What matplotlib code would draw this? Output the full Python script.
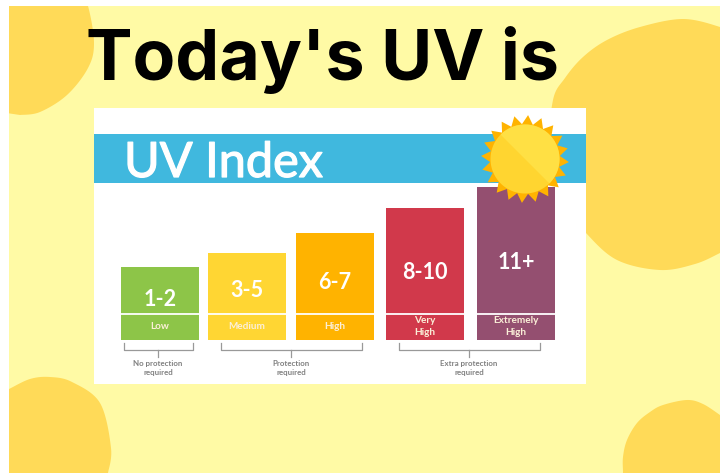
import numpy as np
import matplotlib
matplotlib.use('Agg')
import matplotlib.pyplot as plt
import matplotlib.patheffects as pe
from matplotlib.patches import Rectangle

# values: bar height in pixels above the base line
uv_ranges = ['1-2', '3-5', '6-7', '8-10', '11+']
uv_levels = ['Low', 'Medium', 'High', 'Very\nHigh', 'Extremely\nHigh']
bar_heights = [73, 87, 107, 132, 153]
bar_colors = ['#8DC548', '#FFD633', '#FFB300', '#D1394B', '#944F70']
bar_lefts = [121, 208, 296, 386, 477]
range_label_y = [299, 290.5, 282.5, 272.5, 262]

notes = ['No protection\nrequired', 'Protection\nrequired', 'Extra protection\nrequired']
note_spans = [(124, 193, 158), (221, 362, 291), (399, 540, 469)]

BACKGROUND = '#FFFAA5'
BLOB = '#FFDA58'
BLUE = '#40B8DE'
BAR_BASE = 340
BAR_WIDTH = 78
BAND_HEIGHT = 26

blob_top_left = [(80, -6), (88, 6), (94, 43), (88, 68), (67, 95), (40, 112), (20, 115), (0, 112), (0, -6)]
blob_right = [(735, 35), (720, 27), (683, 19), (640, 27), (607, 40), (583, 57), (565, 78), (553, 100), (550, 150),
              (565, 205), (586, 233), (617, 260), (660, 270), (695, 264), (720, 253), (735, 245)]
blob_bottom_left = [(0, 393), (9, 389), (30, 379), (50, 377), (72, 382), (100, 403), (111, 448), (108, 473),
                    (104, 490), (0, 490)]
blob_bottom_right = [(623, 490), (623, 473), (623, 457), (627, 440), (637, 423), (650, 412), (663, 405), (687, 400),
                     (703, 404), (720, 415), (735, 428), (735, 490)]


def smooth(points, corners=0):
    # catmull-rom through the outline, last points are sharp corners
    pts = np.array(points, dtype=float)
    curve = pts[:len(pts) - corners]
    padded = np.vstack([curve[0], curve, curve[-1]])
    out = []
    for i in range(1, len(padded) - 2):
        p0, p1, p2, p3 = padded[i - 1], padded[i], padded[i + 1], padded[i + 2]
        for t in np.linspace(0, 1, 20, endpoint=False):
            out.append(0.5 * (2 * p1 + (p2 - p0) * t + (2 * p0 - 5 * p1 + 4 * p2 - p3) * t ** 2
                              + (3 * p1 - p0 - 3 * p2 + p3) * t ** 3))
    out.append(curve[-1])
    if corners:
        out.extend(pts[-corners:])
    return np.array(out)


def draw_sun(ax, cx, cy):
    angles = np.radians(np.arange(0, 360, 9) + 4)
    radii = np.where(np.arange(len(angles)) % 2 == 0, 44, 35)
    ax.fill(cx + radii * np.cos(angles), cy + radii * np.sin(angles), color='#FFB300', lw=0, zorder=6)
    t = np.radians(np.linspace(0, 360, 181))
    ax.fill(cx + 34.5 * np.cos(t), cy + 34.5 * np.sin(t), color='#FFD530', lw=0, zorder=7)
    # lighter half, upper right of the diagonal
    t = np.radians(np.linspace(-135, 45, 91))
    ax.fill(cx + 34.5 * np.cos(t), cy + 34.5 * np.sin(t), color='#FFE044', lw=0, zorder=8)


fig = plt.figure(figsize=(7.2, 4.73), dpi=100, facecolor='white')
ax = fig.add_axes([0, 0, 1, 1])
ax.set_xlim(0, 720)
ax.set_ylim(473, 0)
ax.axis('off')

page = Rectangle((9, 6), 711, 467, color=BACKGROUND, lw=0, zorder=0)
ax.add_patch(page)
for blob, corners in [(blob_top_left, 2), (blob_right, 0), (blob_bottom_left, 2), (blob_bottom_right, 2)]:
    outline = smooth(blob, corners)
    shape = ax.fill(outline[:, 0], outline[:, 1], color=BLOB, lw=0, zorder=1)[0]
    shape.set_clip_path(page)

ax.fill_between([94, 586], 108, 384, color='white', lw=0, zorder=2)
ax.fill_between([94, 586], 134, 183, color=BLUE, lw=0, zorder=3)

ax.bar(bar_lefts, [-h for h in bar_heights], width=BAR_WIDTH, bottom=BAR_BASE, align='edge',
       color=bar_colors, lw=0, zorder=4)

for x, rng, level, y in zip(bar_lefts, uv_ranges, uv_levels, range_label_y):
    ax.plot([x, x + BAR_WIDTH], [BAR_BASE - BAND_HEIGHT] * 2, color='white', lw=1.3, zorder=5)
    ax.text(x + BAR_WIDTH / 2, y, rng, color='white', family='Lato', weight='bold', fontsize=15.5,
            ha='center', va='center', zorder=9)
    ax.text(x + BAR_WIDTH / 2, BAR_BASE - BAND_HEIGHT / 2 - 0.5, level, color='#FBEFD8', family='Lato',
            weight='bold', fontsize=7.2, linespacing=1.3, ha='center', va='center', zorder=9)

for note, (x0, x1, xm) in zip(notes, note_spans):
    ax.plot([x0, x0, x1, x1], [343, 350, 350, 343], color='#999999', lw=0.9, zorder=5)
    ax.plot([xm, xm], [350, 357], color='#999999', lw=0.9, zorder=5)
    ax.text(xm, 368, note, color='#808080', family='Lato', weight='bold', fontsize=5.7,
            linespacing=1.25, ha='center', va='center', zorder=9)

draw_sun(ax, 525, 159)

ax.text(124, 163, 'UV Index', color='white', family='Lato', fontsize=35, ha='left', va='center', zorder=9,
        path_effects=[pe.withStroke(linewidth=0.9, foreground='white')])
ax.text(86, 60, "Today's UV is", color='black', family='Inter', weight='bold', fontsize=50.3,
        ha='left', va='center', zorder=10)

fig.savefig('out.png', dpi=100)
